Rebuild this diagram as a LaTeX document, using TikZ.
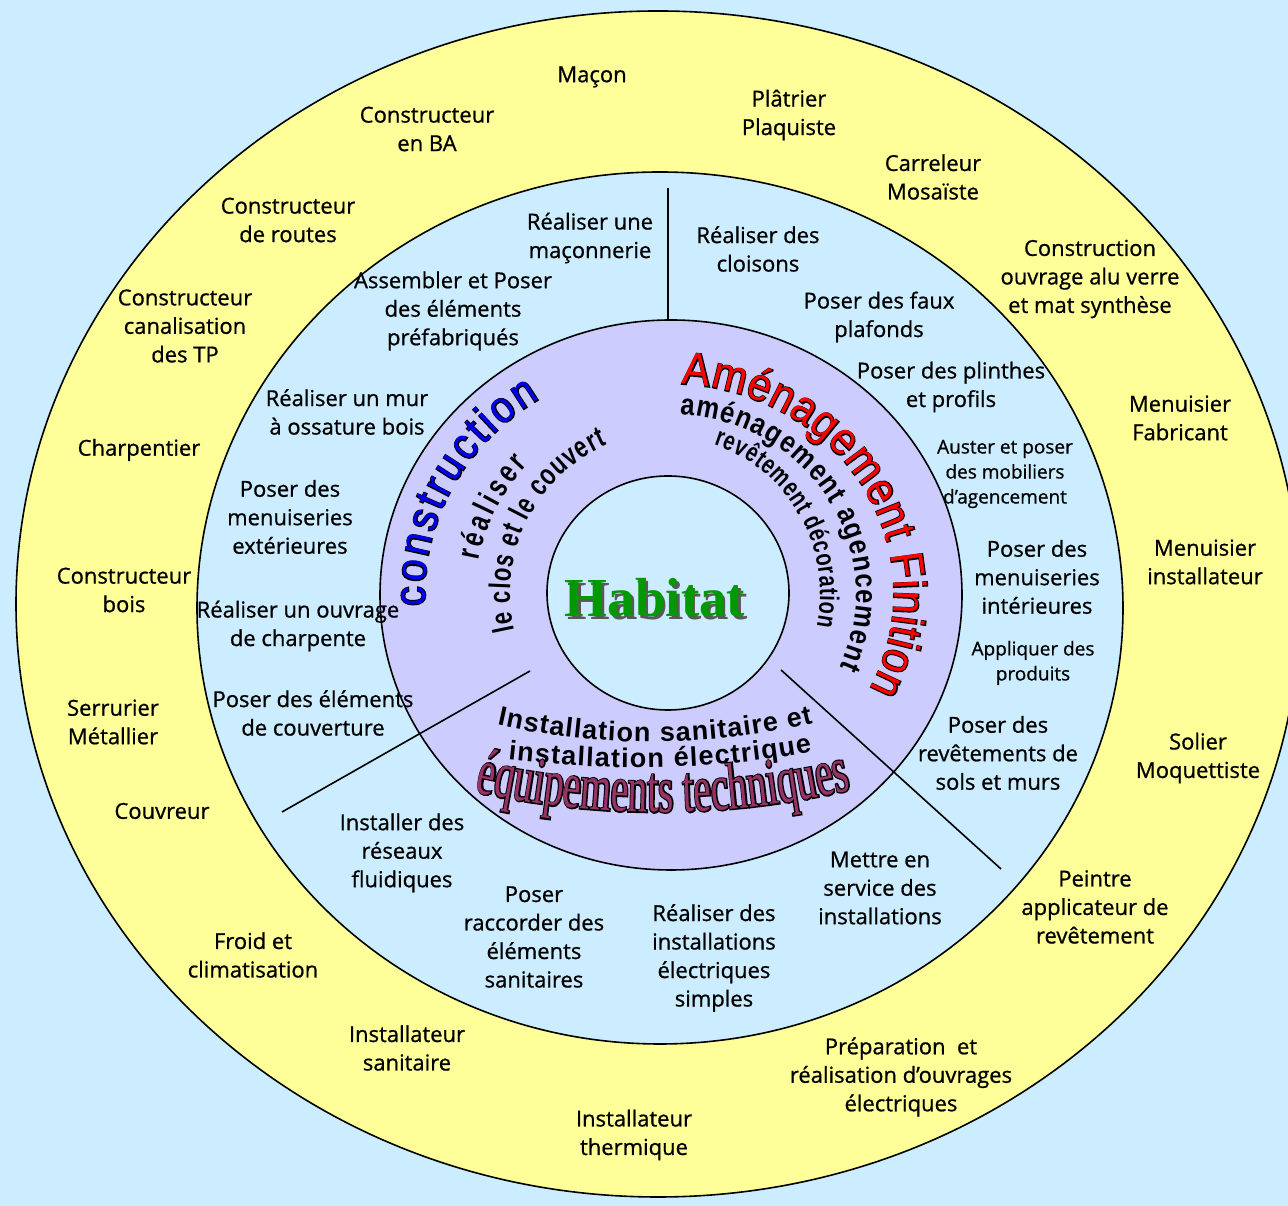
\documentclass[tikz,border=0pt]{standalone}
\usepackage{fontspec}
\usetikzlibrary{decorations.text}
\setmainfont{Open Sans}[RawFeature={embolden=0.8}]
\newfontfamily\waN[FakeStretch=0.9]{Liberation Sans}
\newfontfamily\waNo[FakeStretch=0.9,FakeBold=4]{Liberation Sans}
\newfontfamily\waS{Liberation Sans}
\newfontfamily\waB[FakeStretch=0.85]{Liberation Sans}
\newfontfamily\waBc[FakeStretch=0.74]{Liberation Sans}
\newfontfamily\eqf[FakeStretch=0.6]{Liberation Serif}
\newfontfamily\eqfo[FakeStretch=0.6,FakeBold=4]{Liberation Serif}
\newfontfamily\habf{Liberation Serif}
\definecolor{bgc}{HTML}{CCECFF}
\definecolor{yel}{HTML}{FFFF99}
\definecolor{pur}{HTML}{CCCCFF}
\definecolor{hgreen}{HTML}{009900}
\definecolor{eqcol}{HTML}{993366}
\definecolor{cblue}{HTML}{0000EE}
\begin{document}
\begin{tikzpicture}[x=1pt,y=1pt,
  lbl/.style={align=center,inner sep=0pt,font=\fontsize{22}{28.5}\selectfont},
  slbl/.style={align=center,inner sep=0pt,font=\fontsize{19}{25}\selectfont},
  ring/.style={draw=black,line width=1.6pt},
  divider/.style={draw=black,line width=1.6pt},
  warc/.style={decorate,decoration={text along path,text={#1},text align={fit to path}}}]
\useasboundingbox (0,0) rectangle (1288,1206);
\fill[bgc] (0,0) rectangle (1288,1206);
% rings
\begin{scope}
\clip (0,0) rectangle (1288,1206);
\path[ring,fill=yel] (658,602) ellipse[x radius=642,y radius=593];
\end{scope}
\path[ring,fill=bgc] (660,598) ellipse[x radius=463,y radius=436];
\path[ring,fill=pur] (671,611) ellipse[x radius=291,y radius=275];
\path[ring,fill=bgc] (668,613) ellipse[x radius=121,y radius=117];
% dividers
\coordinate (l1a) at (668,1018);
\coordinate (l1b) at (668,886);
\coordinate (l2a) at (282,394);
\coordinate (l2b) at (530,535);
\coordinate (l3a) at (781,536);
\coordinate (l3b) at (1001,337);
\draw[divider] (l1a) -- (l1b);
\draw[divider] (l2a) -- (l2b);
\draw[divider] (l3a) -- (l3b);
% Habitat
\node[font=\habf\bfseries\fontsize{55}{55}\selectfont,text=black!65] (habs) at (657.5,605.5) {Habitat};
\node[font=\habf\bfseries\fontsize{55}{55}\selectfont,text=hgreen] (habitat) at (655,608) {Habitat};
% WordArt: construction
\begin{scope}[shift={(670,612)}]
\path[warc={|\waNo\fontsize{44}{44}\selectfont\color{black}|construction}] (183:245 and 230) arc[start angle=183,end angle=122,x radius=245,y radius=230];
\path[warc={|\waN\fontsize{44}{44}\selectfont\color{cblue}|construction}] (183:245 and 230) arc[start angle=183,end angle=122,x radius=245,y radius=230];
\path[warc={|\waBc\bfseries\fontsize{32}{32}\selectfont|réaliser}] (170:194 and 190) arc[start angle=170,end angle=137,x radius=194,y radius=190];
\path[warc={|\waBc\bfseries\fontsize{30}{30}\selectfont|le clos et le couvert}] (193:160 and 162) arc[start angle=193,end angle=113,x radius=160,y radius=162];
% Aménagement Finition
\path[warc={|\waNo\fontsize{46}{46}\selectfont\color{black}|Aménagement Finition}] (87:224 and 210) arc[start angle=87,end angle=-27,x radius=224,y radius=210];
\path[warc={|\waN\fontsize{46}{46}\selectfont\color{red}|Aménagement Finition}] (87:224 and 210) arc[start angle=87,end angle=-27,x radius=224,y radius=210];
\path[warc={|\waB\bfseries\fontsize{30}{30}\selectfont|aménagement agencement}] (87:186 and 180) arc[start angle=87,end angle=-24,x radius=186,y radius=180];
\path[warc={|\waBc\bfseries\fontsize{27}{27}\selectfont|revêtement décoration}] (73:150 and 156) arc[start angle=73,end angle=-12,x radius=150,y radius=156];
\end{scope}
% bottom
\path[warc={|\waS\bfseries\fontsize{27}{27}\selectfont|Installation sanitaire et}] (497,481) .. controls (600,458) and (710,458) .. (813,483);
\path[warc={|\waS\bfseries\fontsize{27}{27}\selectfont|installation électrique}] (508,446) .. controls (608,435) and (712,435) .. (812,454);
\path[warc={|\eqfo\fontsize{66}{66}\selectfont\color{black}|équipements techniques}] (475,414) .. controls (600,387) and (725,387) .. (850,416);
\path[warc={|\eqf\fontsize{66}{66}\selectfont\color{eqcol}|équipements techniques}] (475,414) .. controls (600,387) and (725,387) .. (850,416);
% outer ring labels
\node[lbl] (o1) at (592,1129) {Maçon};
\node[lbl] (o2) at (427,1077) {Constructeur\\en BA};
\node[lbl] (o3) at (789,1091) {Plâtrier\\Plaquiste};
\node[lbl] (o4) at (933,1029) {Carreleur\\Mosaïste};
\node[lbl] (o5) at (1090,927) {Construction\\ouvrage alu verre\\et mat synthèse};
\node[lbl] (o6) at (288,986) {Constructeur\\de routes};
\node[lbl] (o7) at (185,880) {Constructeur\\canalisation\\des TP};
\node[lbl] (o8) at (139,756) {Charpentier};
\node[lbl] (o9) at (124,616) {Constructeur\\bois};
\node[lbl] (o10) at (113,484) {Serrurier\\Métallier};
\node[lbl] (o11) at (162,395) {Couvreur};
\node[lbl] (o12) at (253,251) {Froid et\\climatisation};
\node[lbl] (o13) at (407,158) {Installateur\\sanitaire};
\node[lbl] (o14) at (634,71) {Installateur\\thermique};
\node[lbl] (o15) at (901,129) {Préparation\ \ et\\réalisation d’ouvrages\\électriques};
\node[lbl] (o16) at (1095,299) {Peintre\\applicateur de\\revêtement};
\node[lbl] (o17) at (1198,448) {Solier\\Moquettiste};
\node[lbl] (o18) at (1205,644) {Menuisier\\installateur};
\node[lbl] (o19) at (1180,788) {Menuisier\\Fabricant};
% middle ring labels
\node[lbl] (m1) at (590,968) {Réaliser une\\maçonnerie};
\node[lbl] (m2) at (758,957) {Réaliser des\\cloisons};
\node[lbl] (m3) at (453,895) {Assembler et Poser\\des éléments\\préfabriqués};
\node[lbl] (m4) at (879,889) {Poser des faux\\plafonds};
\node[lbl] (m5) at (951,819) {Poser des plinthes\\et profils};
\node[lbl] (m6) at (347,794) {Réaliser un mur\\à ossature bois};
\node[slbl] (m7) at (1005,732) {Auster et poser\\des mobiliers\\d’agencement};
\node[lbl] (m8) at (290,689) {Poser des\\menuiseries\\extérieures};
\node[lbl] (m9) at (1037,629) {Poser des\\menuiseries\\intérieures};
\node[lbl] (m10) at (298,580) {Réaliser un ouvrage\\de charpente};
\node[slbl] (m11) at (1033,543) {Appliquer des\\produits};
\node[lbl] (m12) at (313,493) {Poser des éléments\\de couverture};
\node[lbl] (m13) at (998,453) {Poser des\\revêtements de\\sols et murs};
\node[lbl] (m14) at (402,353) {Installer des\\réseaux\\fluidiques};
\node[lbl] (m15) at (880,318) {Mettre en\\service des\\installations};
\node[lbl] (m16) at (534,269) {Poser\\raccorder des\\éléments\\sanitaires};
\node[lbl] (m17) at (714,248) {Réaliser des\\installations\\électriques\\simples};
\end{tikzpicture}
\end{document}
